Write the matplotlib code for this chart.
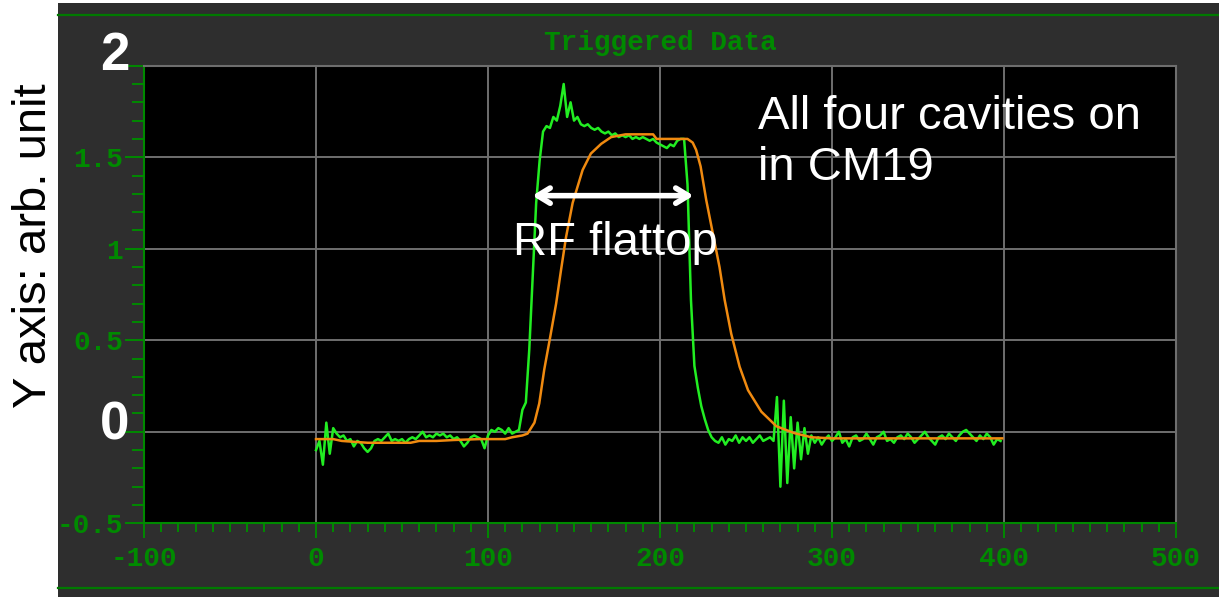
import matplotlib.pyplot as plt
import matplotlib.patches as mpatches
import numpy as np

# green trace: one sample every 2 units from 0 to 398
green_x = np.arange(0, 400, 2)
green_y = [
    -0.10, -0.05, -0.18, 0.05, -0.12, 0.02, -0.01, -0.03, -0.02, -0.05,
    -0.04, -0.08, -0.05, -0.06, -0.09, -0.11, -0.09, -0.05, -0.04, -0.05,
    -0.03, -0.01, -0.05, -0.04, -0.05, -0.04, -0.06, -0.04, -0.03, -0.04,
    -0.02, 0.00, -0.03, -0.02, -0.03, -0.01, -0.02, -0.01, -0.03, -0.02,
    -0.04, -0.03, -0.05, -0.08, -0.06, -0.03, -0.02, -0.03, -0.04, -0.09,
    -0.02, 0.01, 0.00, 0.02, 0.01, -0.01, 0.02, -0.01, 0.00, 0.01,
    0.12, 0.16, 0.45, 0.85, 1.25, 1.48, 1.64, 1.67, 1.66, 1.72,
    1.70, 1.78, 1.90, 1.72, 1.80, 1.70, 1.72, 1.68, 1.67, 1.68,
    1.66, 1.65, 1.66, 1.64, 1.63, 1.64, 1.62, 1.63, 1.61, 1.62,
    1.61, 1.62, 1.60, 1.61, 1.60, 1.61, 1.60, 1.59, 1.60, 1.58,
    1.57, 1.56, 1.55, 1.57, 1.56, 1.59, 1.60, 1.60, 1.35, 0.72,
    0.36, 0.24, 0.14, 0.07, 0.01, -0.03, -0.05, -0.06, -0.03, -0.07,
    -0.04, -0.05, -0.02, -0.06, -0.03, -0.05, -0.03, -0.06, -0.04, -0.02,
    -0.05, -0.04, -0.03, -0.05, 0.19, -0.30, 0.17, -0.28, 0.08, -0.20,
    0.05, -0.15, 0.02, -0.12, -0.02, -0.06, -0.03, -0.07, -0.04, -0.02,
    -0.05, -0.03, 0.00, -0.06, -0.04, -0.08, -0.03, -0.02, -0.05, -0.04,
    -0.01, -0.04, -0.07, -0.03, -0.02, 0.00, -0.05, -0.04, -0.06, -0.03,
    -0.02, -0.04, -0.01, -0.03, -0.06, -0.04, -0.02, 0.00, -0.03, -0.05,
    -0.07, -0.03, -0.02, -0.04, -0.01, -0.03, -0.05, -0.02, 0.00, 0.01,
    -0.01, -0.03, -0.05, -0.02, -0.04, -0.01, -0.03, -0.07, -0.04, -0.05,
]

# orange trace (smooth)
orange_x = [0, 10, 15, 30, 55, 60, 70, 80, 95, 110, 114, 120, 123, 125, 127,
            129.8, 132.7, 136.2, 139.6, 142.4, 145.3, 149.2, 155, 159.8, 165.8,
            171.6, 180, 196, 198, 216, 219, 221, 223.6, 226.9, 230.8, 234.6,
            237.6, 241.4, 246.3, 251.2, 258.9, 267.7, 278, 288, 300, 399]
orange_y = [-0.04, -0.04, -0.05, -0.06, -0.06, -0.05, -0.05, -0.045, -0.04, -0.04,
            -0.03, -0.02, -0.01, 0.02, 0.05, 0.155, 0.34, 0.52, 0.70, 0.88,
            1.06, 1.25, 1.43, 1.52, 1.573, 1.61, 1.625, 1.625, 1.60, 1.60,
            1.58, 1.54, 1.45, 1.265, 1.08, 0.90, 0.72, 0.536, 0.355, 0.227,
            0.11, 0.03, -0.007, -0.03, -0.036, -0.036]

x_ticks = [-100, 0, 100, 200, 300, 400, 500]
x_ticklabels = ['-100', '0', '100', '200', '300', '400', '500']
y_ticks = [-0.5, 0, 0.5, 1, 1.5, 2]
# the 0 and 2 labels are drawn over in big white type
y_ticklabels = ['-0.5', '', '0.5', '1', '1.5', '']
big_labels = {'2': 56.5, '0': 425.5}   # label -> pixel row of its centre

flattop = [125.8, 219.5]
flattop_level = 1.29

panel = '#2e2e2e'
dkgreen = '#008a00'
gridc = '#6e6e6e'
mono = 'Liberation Mono'
sans = 'Liberation Sans'

fig = plt.figure(figsize=(12.19, 5.97), dpi=100)
fig.patch.set_facecolor('white')
fig.patches.append(mpatches.Rectangle((58 / 1219, 0), 1, 1 - 3 / 597,
                                      transform=fig.transFigure,
                                      facecolor=panel, edgecolor='none', zorder=-10))
for yy in (1 - 15 / 597, 1 - 588 / 597):
    fig.add_artist(plt.Line2D([58 / 1219, 1], [yy, yy], transform=fig.transFigure,
                              color='#007a00', lw=1.6))

ax = fig.add_axes([144 / 1219, 1 - 523.3 / 597, (1176 - 144) / 1219, (523.3 - 65.7) / 597])
ax.set_facecolor('black')
ax.set_xlim(-100, 500)
ax.set_ylim(-0.5, 2)

ax.set_xticks(x_ticks)
ax.set_xticklabels(x_ticklabels)
ax.set_yticks(y_ticks)
ax.set_yticklabels(y_ticklabels)
ax.set_xticks(np.arange(-100, 501, 10), minor=True)
ax.set_yticks(np.arange(-0.5, 2.01, 0.1), minor=True)
ax.grid(True, which='major', color=gridc, lw=1.4)
ax.set_axisbelow(True)

for lab in ax.get_xticklabels() + ax.get_yticklabels():
    lab.set_fontfamily(mono)
    lab.set_fontweight('bold')
    lab.set_fontsize(20)
    lab.set_color(dkgreen)
ax.tick_params(axis='x', which='major', length=11, width=1.4, color=dkgreen, pad=5)
ax.tick_params(axis='x', which='minor', length=6.5, width=1.4, color=dkgreen)
ax.tick_params(axis='y', which='major', length=14, width=1.4, color=dkgreen, pad=1)
ax.tick_params(axis='y', which='minor', length=8.5, width=1.4, color=dkgreen)
ax.spines['left'].set_color(dkgreen)
ax.spines['bottom'].set_color(dkgreen)
ax.spines['top'].set_color(gridc)
ax.spines['right'].set_color(gridc)
for s in ax.spines.values():
    s.set_linewidth(1.5)

ax.plot(green_x, green_y, color='#22ee22', lw=1.8, zorder=3)
ax.plot(orange_x, orange_y, color='#f08a10', lw=1.8, zorder=4)

ax.annotate('', xy=(flattop[0], flattop_level), xytext=(flattop[1], flattop_level),
            arrowprops=dict(arrowstyle='<->,head_length=0.9,head_width=0.55',
                            color='white', lw=4, shrinkA=0, shrinkB=0), zorder=6)
ax.text(174, 0.964, 'RF flattop', color='white', fontsize=34, family=sans,
        ha='center', va='baseline', zorder=6)
ax.text(257, 1.84, 'All four cavities on\nin CM19', color='white', fontsize=34,
        family=sans, ha='left', va='top', linespacing=1.2, zorder=6)

fig.text(660 / 1219, 1 - 43 / 597, 'Triggered Data', color=dkgreen, family=mono,
         fontweight='bold', fontsize=20, ha='center', va='center')
for txt, row in big_labels.items():
    fig.text(115 / 1219, 1 - row / 597, txt, color='white', family=sans,
             fontweight='heavy', fontsize=38, ha='center', va='center')
fig.text(34.5 / 1219, 1 - 246 / 597, 'Y axis: arb. unit', color='black', family=sans,
         fontsize=34, rotation=90, ha='center', va='center')

fig.savefig('out.png', dpi=100, facecolor=fig.get_facecolor())
